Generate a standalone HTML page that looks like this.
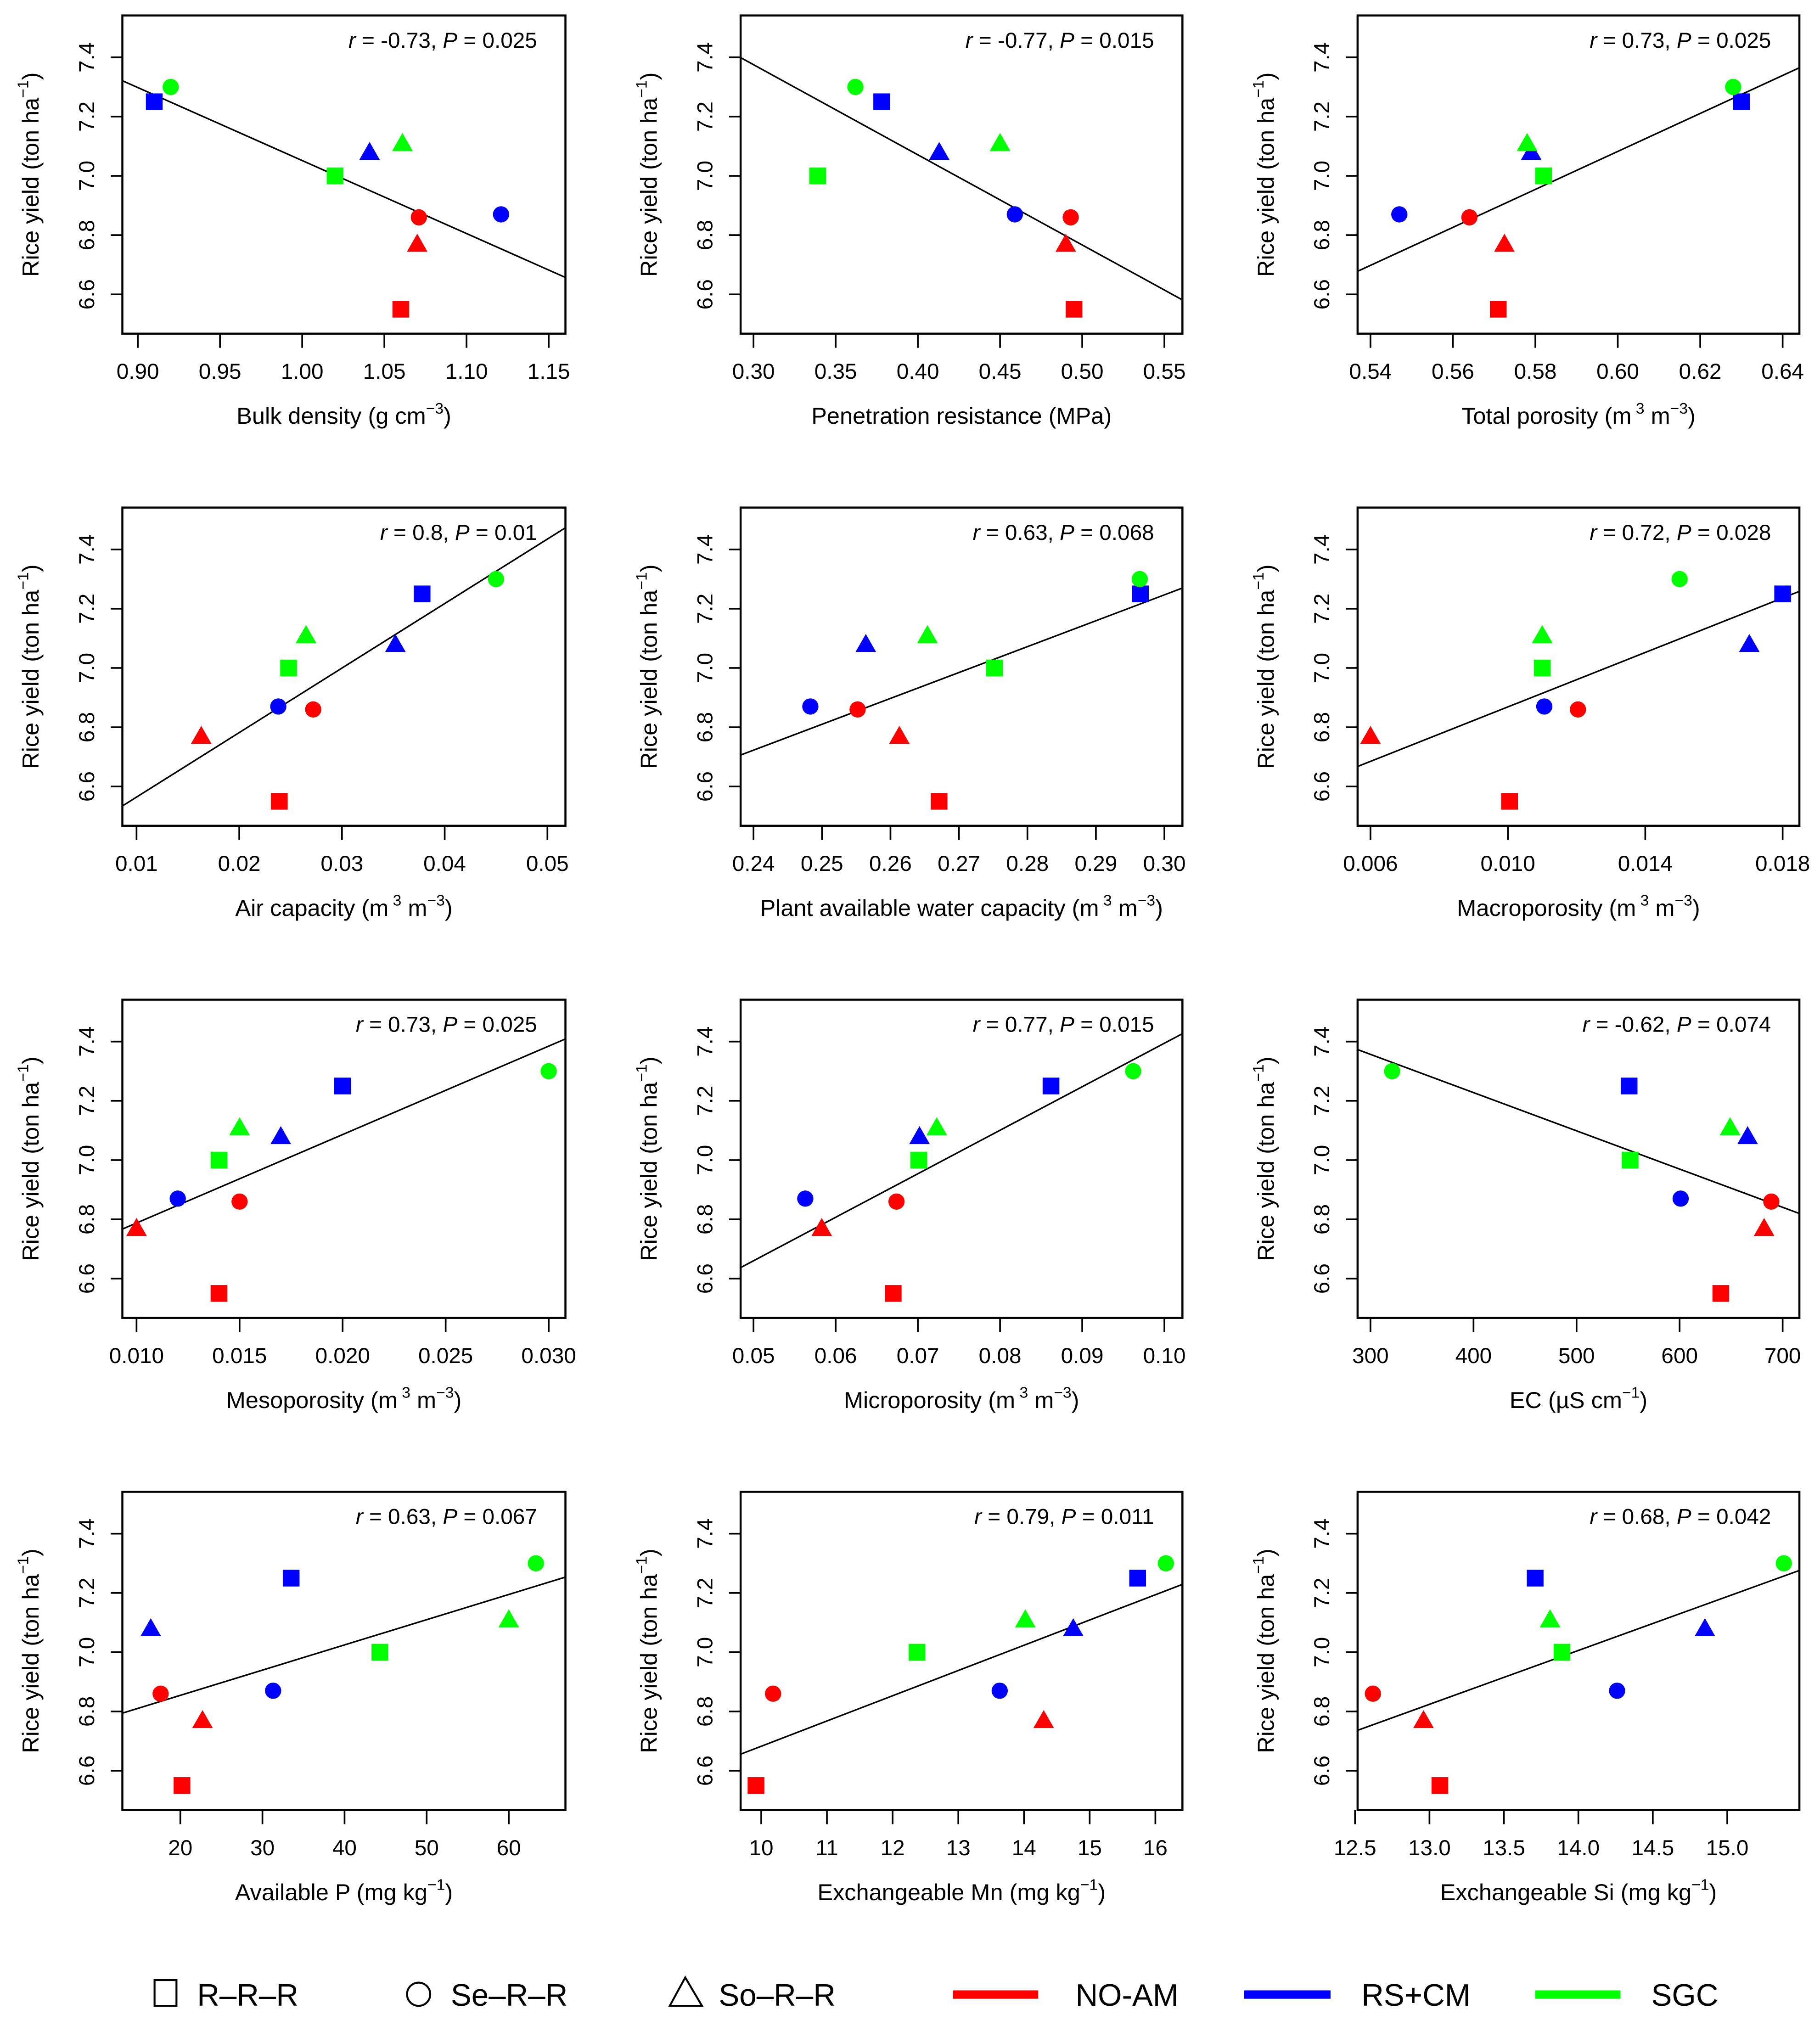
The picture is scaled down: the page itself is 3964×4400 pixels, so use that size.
<!DOCTYPE html>
<html><head><meta charset="utf-8"><style>
html,body{margin:0;padding:0;background:#fff}
svg{display:block}
text{font-family:"Liberation Sans",Arial,sans-serif;fill:#000}
</style></head><body>
<svg id="fig" xmlns="http://www.w3.org/2000/svg" width="3964" height="4400" viewBox="0 0 1413 1568" preserveAspectRatio="none">
<rect x="0" y="0" width="1413" height="1568" fill="#fff"/>
<g id="panels"></g>
<g id="legend">
  <rect x="120" y="1537" width="17" height="20" fill="none" stroke="#000" stroke-width="1.5"/>
  <text x="153" y="1557" font-size="24">R–R–R</text>
  <circle cx="325" cy="1548" r="9" fill="none" stroke="#000" stroke-width="1.5"/>
  <text x="350" y="1557" font-size="24">Se–R–R</text>
  <polygon points="532,1535 520,1557 545,1557" fill="none" stroke="#000" stroke-width="1.5"/>
  <text x="558" y="1557" font-size="24">So–R–R</text>
  <rect x="740" y="1545" width="66" height="6.5" fill="#ff0000"/>
  <text x="835" y="1557" font-size="24">NO-AM</text>
  <rect x="966" y="1545" width="67" height="6.5" fill="#0000ff"/>
  <text x="1057" y="1557" font-size="24">RS+CM</text>
  <rect x="1192" y="1545" width="66" height="6.5" fill="#00ff00"/>
  <text x="1282" y="1557" font-size="24">SGC</text>
</g>
</svg>
<script>
// Order: [R-R-R NO-AM, Se-R-R NO-AM, So-R-R NO-AM, R-R-R RS+CM, Se-R-R RS+CM, So-R-R RS+CM, R-R-R SGC, Se-R-R SGC, So-R-R SGC]
const yieldVals = [6.55, 6.86, 6.77, 7.25, 6.87, 7.08, 7.00, 7.30, 7.11];
const pointColors = ['#ff0000','#ff0000','#ff0000','#0000ff','#0000ff','#0000ff','#00ff00','#00ff00','#00ff00'];
const pointShapes = ['sq','ci','tr','sq','ci','tr','sq','ci','tr'];
const yTicks = [6.6, 6.8, 7.0, 7.2, 7.4];
const yTickLabels = ['6.6','6.8','7.0','7.2','7.4'];

const xBulk = [1.06, 1.071, 1.07, 0.91, 1.121, 1.041, 1.02, 0.92, 1.061];
const xPen = [0.495, 0.493, 0.49, 0.378, 0.459, 0.413, 0.339, 0.362, 0.45];
const xTotPor = [0.571, 0.564, 0.5725, 0.63, 0.547, 0.579, 0.582, 0.628, 0.578];
const xAir = [0.0239, 0.0272, 0.0163, 0.0378, 0.0238, 0.0352, 0.0248, 0.045, 0.0265];
const xPawc = [0.2671, 0.2552, 0.2613, 0.2965, 0.2483, 0.2564, 0.2752, 0.2964, 0.2654];
const xMacro = [0.01005, 0.01204, 0.006, 0.018, 0.01106, 0.01703, 0.011, 0.015, 0.011];
const xMeso = [0.014, 0.015, 0.010, 0.020, 0.012, 0.017, 0.014, 0.030, 0.015];
const xMicro = [0.067, 0.0674, 0.0583, 0.0862, 0.0563, 0.0702, 0.0701, 0.0962, 0.0723];
const xEC = [640, 689, 682, 551, 601, 666, 552, 321, 649];
const xAvP = [20.2, 17.6, 22.7, 33.5, 31.3, 16.4, 44.3, 63.3, 60.0];
const xMn = [9.92, 10.18, 14.3, 15.73, 13.63, 14.75, 12.37, 16.16, 14.02];
const xSi = [13.07, 12.62, 12.96, 13.71, 14.26, 14.85, 13.89, 15.38, 13.81];

const ticksBulk = [0.90,0.95,1.00,1.05,1.10,1.15];
const ticksPen = [0.30,0.35,0.40,0.45,0.50,0.55];
const ticksTotPor = [0.54,0.56,0.58,0.60,0.62,0.64];
const ticksAir = [0.01,0.02,0.03,0.04,0.05];
const ticksPawc = [0.24,0.25,0.26,0.27,0.28,0.29,0.30];
const ticksMacro = [0.006,0.010,0.014,0.018];
const ticksMeso = [0.010,0.015,0.020,0.025,0.030];
const ticksMicro = [0.05,0.06,0.07,0.08,0.09,0.10];
const ticksEC = [300,400,500,600,700];
const ticksAvP = [20,30,40,50,60];
const ticksMn = [10,11,12,13,14,15,16];
const ticksSi = [12.5,13.0,13.5,14.0,14.5,15.0];

const tickDecimals = [2,2,2,2,2,3,3,2,0,0,0,1];
const annotations = [
 ['-0.73','0.025'],['-0.77','0.015'],['0.73','0.025'],
 ['0.8','0.01'],['0.63','0.068'],['0.72','0.028'],
 ['0.73','0.025'],['0.77','0.015'],['-0.62','0.074'],
 ['0.63','0.067'],['0.79','0.011'],['0.68','0.042']];
const xTitles = [
 ['Bulk density (g cm','−3',')'],['Penetration resistance (MPa)','',''],['Total porosity (m',' 3',' m','−3',')'],
 ['Air capacity (m',' 3',' m','−3',')'],['Plant available water capacity (m',' 3',' m','−3',')'],['Macroporosity (m',' 3',' m','−3',')'],
 ['Mesoporosity (m',' 3',' m','−3',')'],['Microporosity (m',' 3',' m','−3',')'],['EC (µS cm','−1',')'],
 ['Available P (mg kg','−1',')'],['Exchangeable Mn (mg kg','−1',')'],['Exchangeable Si (mg kg','−1',')']];
const panelNames = ['bulk-density','penetration-resistance','total-porosity','air-capacity','pawc','macroporosity','mesoporosity','microporosity','ec','available-p','exchangeable-mn','exchangeable-si'];

const allX = [xBulk,xPen,xTotPor,xAir,xPawc,xMacro,xMeso,xMicro,xEC,xAvP,xMn,xSi];
const allTicks = [ticksBulk,ticksPen,ticksTotPor,ticksAir,ticksPawc,ticksMacro,ticksMeso,ticksMicro,ticksEC,ticksAvP,ticksMn,ticksSi];
// layout (pixel calibration of first and last tick), not data
const colBox = [[95,439],[575,918],[1054,1397]];
const rowTop = [12,394,776,1158];
const tickPx = [[107,426],[585,904],[1064,1384],[106,425],[585,904],[1064,1384],[106,426],[585,904],[1064,1384],[140,395],[591,897],[1052,1341]];
const BOXH = 247;

const NS = 'http://www.w3.org/2000/svg';
const root = document.getElementById('panels');
function mk(tag, attrs, parent){
  const e = document.createElementNS(NS, tag);
  for (const k in attrs) e.setAttribute(k, attrs[k]);
  (parent||root).appendChild(e);
  return e;
}

for (let p = 0; p < 12; p++){
  const col = p % 3, row = Math.floor(p/3);
  const L = colBox[col][0], R = colBox[col][1], T = rowTop[row], B = T + BOXH;
  const ticks = allTicks[p], xs = allX[p];
  const t0 = ticks[0], t1 = ticks[ticks.length-1];
  const sx = v => tickPx[p][0] + (v - t0) * (tickPx[p][1]-tickPx[p][0]) / (t1 - t0);
  const sy = v => T + 32.5 + (7.4 - v) * 230;
  const g = mk('g', {});
  
  

  const cp = mk('clipPath', {id:'clip'+p}, g);
  mk('rect', {x:L, y:T, width:R-L, height:BOXH}, cp);

  // y ticks
  yTicks.forEach((v,i) => {
    const y = sy(v);
    const tk = mk('line', {x1:L-9, x2:L, y1:y, y2:y, stroke:'#000', 'stroke-width':1.3}, g);
    
    
    const tl = mk('text', {x:0, y:0, 'font-size':17, 'text-anchor':'middle', transform:`translate(${L-22},${y}) rotate(-90)`}, g);
    
    
    tl.textContent = yTickLabels[i];
  });
  // y title
  const yt = mk('text', {x:0, y:0, 'font-size':18, 'text-anchor':'middle', transform:`translate(${L-65},${(T+B)/2}) rotate(-90)`}, g);
  
  
  yt.innerHTML = 'Rice yield (ton ha<tspan font-size="12" dy="-8">−1</tspan><tspan dy="8">)</tspan>';

  // x ticks
  ticks.forEach(v => {
    const x = sx(v);
    const tk = mk('line', {x1:x, x2:x, y1:B, y2:B+11, stroke:'#000', 'stroke-width':1.3}, g);
    
    
    const tl = mk('text', {x:x, y:B+35, 'font-size':17, 'text-anchor':'middle'}, g);
    
    
    tl.textContent = v.toFixed(tickDecimals[p]);
  });
  // x title
  const xt = mk('text', {x:(L+R)/2, y:B+70, 'font-size':18, 'text-anchor':'middle'}, g);
  
  
  const parts = xTitles[p];
  let html = parts[0];
  if (parts.length === 3 && parts[1]) html += `<tspan font-size="12" dy="-8">${parts[1]}</tspan><tspan dy="8">${parts[2]}</tspan>`;
  else if (parts.length === 5) html += `<tspan font-size="12" dy="-8">${parts[1]}</tspan><tspan dy="8">${parts[2]}</tspan><tspan font-size="12" dy="-8">${parts[3]}</tspan><tspan dy="8">${parts[4]}</tspan>`;
  xt.innerHTML = html;

  // regression line
  const n = xs.length;
  const mx = xs.reduce((a,b)=>a+b,0)/n, my = yieldVals.reduce((a,b)=>a+b,0)/n;
  let sxy = 0, sxx = 0;
  for (let i=0;i<n;i++){ sxy += (xs[i]-mx)*(yieldVals[i]-my); sxx += (xs[i]-mx)*(xs[i]-mx); }
  const slope = sxy/sxx, icpt = my - slope*mx;
  const invx = px => t0 + (px - tickPx[p][0]) * (t1 - t0) / (tickPx[p][1]-tickPx[p][0]);
  const xa = invx(L), xb = invx(R);
  const ln = mk('line', {x1:L, x2:R, y1:sy(icpt+slope*xa), y2:sy(icpt+slope*xb), stroke:'#000', 'stroke-width':1.2, 'clip-path':`url(#clip${p})`}, g);
  
  

  // points
  const pg = mk('g', {'clip-path':`url(#clip${p})`}, g);
  for (let i=0;i<n;i++){
    const x = sx(xs[i]), y = sy(yieldVals[i]);
    let m;
    if (pointShapes[i]==='sq') m = mk('rect', {x:x-6.5, y:y-6.5, width:13, height:13, fill:pointColors[i]}, pg);
    else if (pointShapes[i]==='ci') m = mk('circle', {cx:x, cy:y, r:6.3, fill:pointColors[i]}, pg);
    else m = mk('polygon', {points:`${x},${y-8} ${x-8},${y+6} ${x+8},${y+6}`, fill:pointColors[i]}, pg);
    
    
  }

  // box
  const bx = mk('rect', {x:L, y:T, width:R-L, height:BOXH, fill:'none', stroke:'#000', 'stroke-width':1.6}, g);
  
  

  // annotation
  const an = mk('text', {x:R-22, y:T+25, 'font-size':17, 'text-anchor':'end'}, g);
  
  
  an.innerHTML = `<tspan font-style="italic">r</tspan> = ${annotations[p][0]}, <tspan font-style="italic">P</tspan> = ${annotations[p][1]}`;
}
</script>
</body></html>
